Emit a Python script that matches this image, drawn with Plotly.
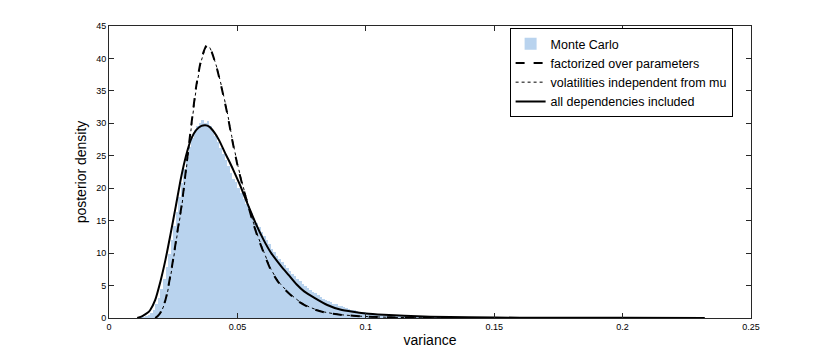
import numpy as np
import plotly.graph_objects as go

# ---------------- data ----------------
x_ticks = [0, 0.05, 0.1, 0.15, 0.2, 0.25]
x_tick_labels = ["0", "0.05", "0.1", "0.15", "0.2", "0.25"]
y_ticks = [0, 5, 10, 15, 20, 25, 30, 35, 40, 45]

# Monte Carlo histogram: bin width 0.001, first bin centre 0.0125
mc_bin_start = 0.0125
mc_bin_width = 0.001
mc_density = [
    0.05, 0.12, 0.25, 0.45, 0.8, 1.3, 2.1, 3.1, 4.4, 6.0,
    7.9, 9.9, 12.0, 14.2, 16.4, 18.6, 20.8, 22.9, 24.8, 26.4,
    27.8, 28.9, 29.6, 30.0, 30.5, 30.1, 30.3, 29.6, 29.0, 28.1,
    27.1, 26.2, 25.3, 24.3, 23.4, 22.3, 21.4, 21.0, 20.1, 19.3,
    18.4, 17.6, 16.9, 16.2, 15.4, 14.6, 14.0, 13.2, 12.6, 12.0,
    11.4, 10.7, 10.2, 9.6, 9.1, 8.6, 8.1, 7.7, 7.2, 6.8,
    6.4, 6.0, 5.7, 5.3, 5.0, 4.7, 4.3, 4.0, 3.8, 3.5,
    3.3, 3.0, 2.8, 2.6, 2.4, 2.2, 2.1, 1.9, 1.8, 1.65,
    1.55, 1.4, 1.3, 1.2, 1.1, 1.0, 0.95, 0.85, 0.8, 0.72,
    0.66, 0.6, 0.55, 0.5, 0.46, 0.42, 0.38, 0.35, 0.32, 0.3,
    0.27, 0.25, 0.23, 0.21, 0.19, 0.18, 0.16, 0.15, 0.14, 0.13,
    0.12, 0.11, 0.1, 0.09, 0.08, 0.08, 0.07, 0.06, 0.06, 0.05,
    0.05, 0.04, 0.04, 0.03, 0.03, 0.03, 0.02, 0.02,
]

# factorized over parameters (dashed)
fact_x = [0.018, 0.019, 0.020, 0.022, 0.0245, 0.0265, 0.0284, 0.030, 0.032, 0.034,
          0.036, 0.038, 0.039, 0.040, 0.042, 0.044, 0.046, 0.048, 0.050, 0.052,
          0.054, 0.056, 0.058, 0.060, 0.063, 0.066, 0.070, 0.074, 0.078, 0.083,
          0.090, 0.100, 0.110, 0.120, 0.140, 0.180, 0.232]
fact_y = [0.0, 0.3, 0.8, 2.8, 7.9, 13.0, 17.7, 23.0, 29.6, 35.8,
          40.0, 42.0, 41.9, 41.0, 38.5, 35.2, 31.6, 27.4, 23.6, 20.4,
          17.6, 14.8, 12.4, 10.3, 7.4, 5.5, 3.8, 2.5, 1.6, 0.95,
          0.5, 0.22, 0.1, 0.05, 0.01, 0.0, 0.0]

# volatilities independent from mu (dotted)
vol_x = [0.018, 0.019, 0.020, 0.022, 0.0245, 0.0265, 0.0284, 0.030, 0.032, 0.034,
         0.036, 0.038, 0.039, 0.040, 0.042, 0.044, 0.046, 0.048, 0.050, 0.052,
         0.054, 0.056, 0.058, 0.060, 0.063, 0.066, 0.070, 0.074, 0.078, 0.083,
         0.090, 0.100, 0.110, 0.120, 0.140, 0.180, 0.232]
vol_y = [0.0, 0.25, 0.7, 2.6, 7.6, 12.7, 17.4, 22.6, 29.2, 35.4,
         39.7, 41.8, 41.8, 41.0, 38.6, 35.4, 31.8, 27.6, 23.8, 20.6,
         17.8, 15.0, 12.6, 10.5, 7.6, 5.6, 3.9, 2.6, 1.7, 1.0,
         0.52, 0.23, 0.1, 0.05, 0.01, 0.0, 0.0]

# all dependencies included (solid)
full_x = [0.011, 0.013, 0.015, 0.016, 0.018, 0.020, 0.022, 0.024, 0.026, 0.028,
          0.030, 0.032, 0.034, 0.036, 0.0375, 0.039, 0.041, 0.043, 0.045, 0.047,
          0.049, 0.051, 0.053, 0.055, 0.057, 0.060, 0.063, 0.067, 0.070, 0.073,
          0.076, 0.080, 0.085, 0.090, 0.095, 0.100, 0.107, 0.115, 0.125, 0.140,
          0.160, 0.200, 0.232]
full_y = [0.0, 0.3, 0.8, 1.2, 2.8, 5.6, 9.0, 13.0, 17.2, 21.5,
          25.0, 27.6, 29.0, 29.6, 29.7, 29.5, 28.6, 27.3, 25.6, 24.0,
          22.3, 20.5, 18.5, 16.6, 14.7, 12.2, 10.1, 8.0, 6.6, 5.2,
          4.1, 3.1, 2.0, 1.3, 0.95, 0.7, 0.5, 0.33, 0.2, 0.1,
          0.05, 0.02, 0.01]

# ---------------- figure ----------------
mc_x = [round(mc_bin_start + i * mc_bin_width, 4) for i in range(len(mc_density))]

FONT = "Liberation Sans, Arial, Helvetica, sans-serif"

fig = go.Figure()
fig.add_trace(go.Bar(
    x=mc_x, y=mc_density, width=mc_bin_width,
    marker=dict(color="rgb(185,211,238)", line=dict(width=0)),
    name="Monte Carlo",
))
fig.add_trace(go.Scatter(
    x=fact_x, y=fact_y, mode="lines", name="factorized over parameters",
    line=dict(color="black", width=2, dash="dash", shape="spline", smoothing=0.6),
))
fig.add_trace(go.Scatter(
    x=vol_x, y=vol_y, mode="lines", name="volatilities independent from mu",
    line=dict(color="black", width=1, dash="dot", shape="spline", smoothing=0.6),
))
fig.add_trace(go.Scatter(
    x=full_x, y=full_y, mode="lines", name="all dependencies included",
    line=dict(color="black", width=2, shape="spline", smoothing=0.6),
))

axis_common = dict(
    showline=True, linecolor="rgb(40,40,40)", linewidth=1, mirror="ticks",
    ticks="inside", ticklen=5, tickcolor="rgb(40,40,40)", tickwidth=1,
    showgrid=False, zeroline=False, automargin=False,
    tickfont=dict(family=FONT, size=9, color="black"),
)

# the page body adds an 8 px margin, so the figure is sized to fit the window
fig.update_layout(
    width=822, height=349,
    margin=dict(l=101, r=79, t=18, b=39),
    paper_bgcolor="white", plot_bgcolor="white",
    bargap=0,
    showlegend=True,
    legend=dict(
        x=0.624, y=0.993, xanchor="left", yanchor="top",
        bgcolor="white", bordercolor="black", borderwidth=1,
        font=dict(family=FONT, size=12.5, color="black"),
        tracegroupgap=0, itemwidth=30,
    ),
    xaxis=dict(
        range=[0, 0.25], tickvals=x_ticks, ticktext=x_tick_labels,
        title=dict(text="variance", font=dict(family=FONT, size=14, color="black"), standoff=4),
        **axis_common,
    ),
    yaxis=dict(
        range=[0, 45], tickvals=y_ticks,
        title=dict(text="posterior density", font=dict(family=FONT, size=14, color="black"), standoff=6),
        **axis_common,
    ),
)

fig.write_html("out.html")
